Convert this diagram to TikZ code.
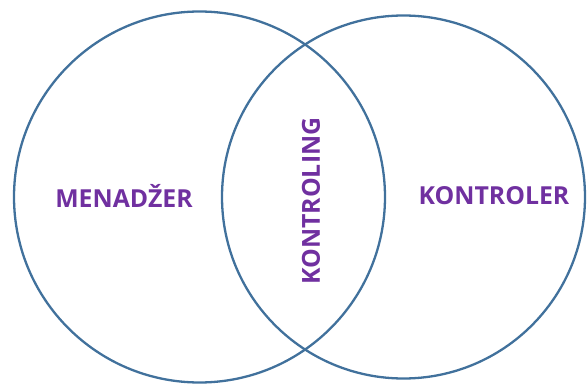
\documentclass[tikz,border=0pt]{standalone}
\usepackage{fontspec}
\setmainfont{Open Sans}
\definecolor{CircleBlue}{HTML}{41719C}
\definecolor{LabelPurple}{HTML}{7030A0}

\begin{document}
\begin{tikzpicture}[x=1pt,y=-1pt,line cap=round,line join=round,
  venntext/.style={text=LabelPurple,font=\fontsize{24.8}{28}\selectfont\bfseries,inner sep=0pt}]
  \useasboundingbox (0,0) rectangle (587,385);
  \coordinate (L) at (199.5,197); \coordinate (R) at (403.5,197);
  \draw[CircleBlue,line width=2.3pt] (L) circle[radius=185.5pt];
  \draw[CircleBlue,line width=2.3pt] (R) circle[radius=181.5pt];
  \node[venntext] (menadzer) at (124,196) {MENADŽER};
  \node[venntext] (kontroler) at (494,196) {KONTROLER};
  \node[venntext,rotate=90] (kontroling) at (311,201) {KONTROLING};
\end{tikzpicture}
\end{document}
